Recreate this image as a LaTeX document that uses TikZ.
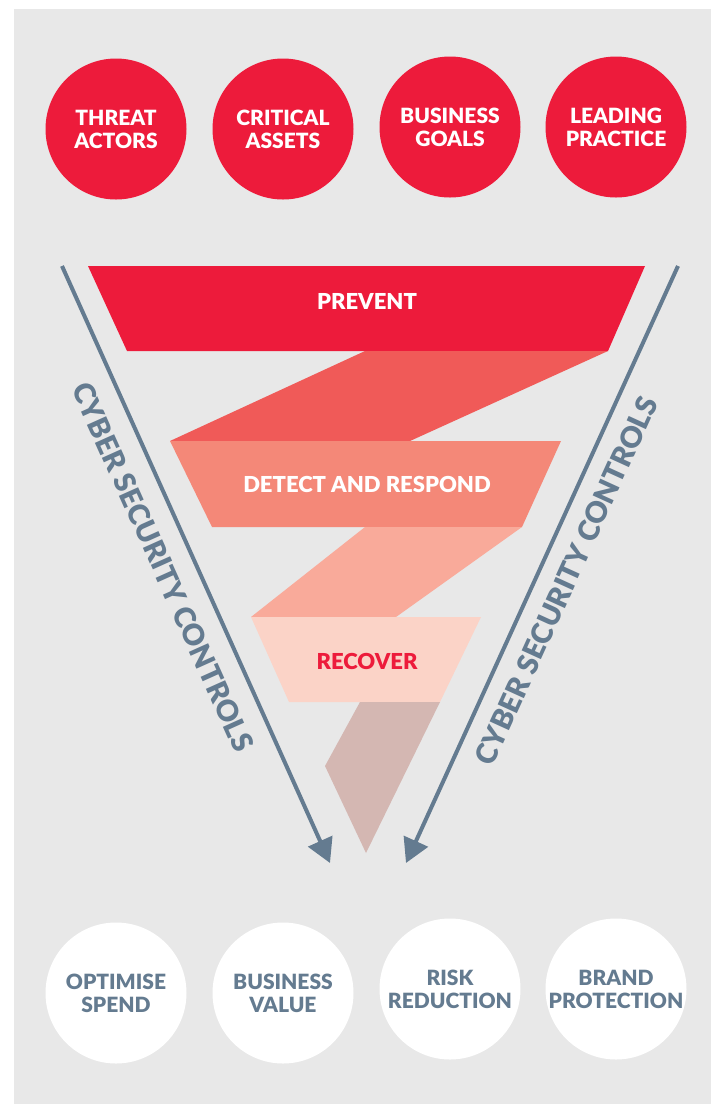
\documentclass[tikz,border=0pt]{standalone}
\usepackage{fontspec}
\setmainfont{Lato}
\newfontfamily\heavy{Lato Black}
\usetikzlibrary{arrows.meta}
\definecolor{bgray}{HTML}{E8E8E8}
\definecolor{cred}{HTML}{ED1B3B}
\definecolor{rib1}{HTML}{F05A58}
\definecolor{detc}{HTML}{F48878}
\definecolor{rib2}{HTML}{F9AA9A}
\definecolor{recc}{HTML}{FBD3C7}
\definecolor{tailc}{HTML}{D4B7B2}
\definecolor{slate}{HTML}{647B90}
\tikzset{
  topcirc/.style={circle, fill=cred, minimum size=141pt, inner sep=0pt, text=white, align=center,
    font=\heavy\fontsize{21}{23}\selectfont},
  botcirc/.style={circle, fill=white, minimum size=141pt, inner sep=0pt, text=slate, align=center,
    font=\heavy\fontsize{21}{23}\selectfont},
  stagetext/.style={font=\heavy\fontsize{22}{24}\selectfont},
  sidetext/.style={font=\heavy\fontsize{29}{31}\selectfont, text=slate},
  ctrlarrow/.style={draw=slate, line width=4pt, -{Triangle[width=26pt,length=24pt]}}
}
\begin{document}
\begin{tikzpicture}[x=1pt,y=-1pt]
\useasboundingbox (0,0) rectangle (718,1104);
\fill[bgray] (14,9) rectangle (711,1104);
% top circles
\node[topcirc] (ta) at (116,129) {THREAT\\ACTORS};
\node[topcirc] (ca) at (283,129) {CRITICAL\\ASSETS};
\node[topcirc] (bg) at (450,127) {BUSINESS\\GOALS};
\node[topcirc] (lp) at (616,127) {LEADING\\PRACTICE};
% funnel
\fill[cred] (88,266) -- (645,266) -- (608,351) -- (127,351) -- cycle;
\fill[rib1] (365,351) -- (608,351) -- (410,441) -- (170,441) -- cycle;
\fill[detc] (170,441) -- (561,441) -- (522,527) -- (212,527) -- cycle;
\fill[rib2] (365,527) -- (522,527) -- (396,617) -- (251,617) -- cycle;
\fill[recc] (251,617) -- (481,617) -- (440,702) -- (289,702) -- cycle;
\fill[tailc] (360,702) -- (440,702) -- (366,853) -- (325,766) -- cycle;
\node[stagetext, text=white] (prev) at (367,301) {PREVENT};
\node[stagetext, text=white] (detr) at (367,484) {DETECT AND RESPOND};
\node[stagetext, text=cred] (reco) at (367,661) {RECOVER};
% arrows
\coordinate (la1) at (62,266);
\coordinate (la2) at (330,863);
\coordinate (ra1) at (678,266);
\coordinate (ra2) at (406,863);
\draw[ctrlarrow] (la1) -- (la2);
\draw[ctrlarrow] (ra1) -- (ra2);
\node[sidetext, rotate=-65.8] (lt) at (163,567) {CYBER SECURITY CONTROLS};
\node[sidetext, rotate=65.5] (rt) at (566,581) {CYBER SECURITY CONTROLS};
% bottom circles
\node[botcirc] (os) at (116,993) {OPTIMISE\\SPEND};
\node[botcirc] (bv) at (283,993) {BUSINESS\\VALUE};
\node[botcirc] (rr) at (450,989) {RISK\\REDUCTION};
\node[botcirc] (bp) at (616,989) {BRAND\\PROTECTION};
\end{tikzpicture}
\end{document}
